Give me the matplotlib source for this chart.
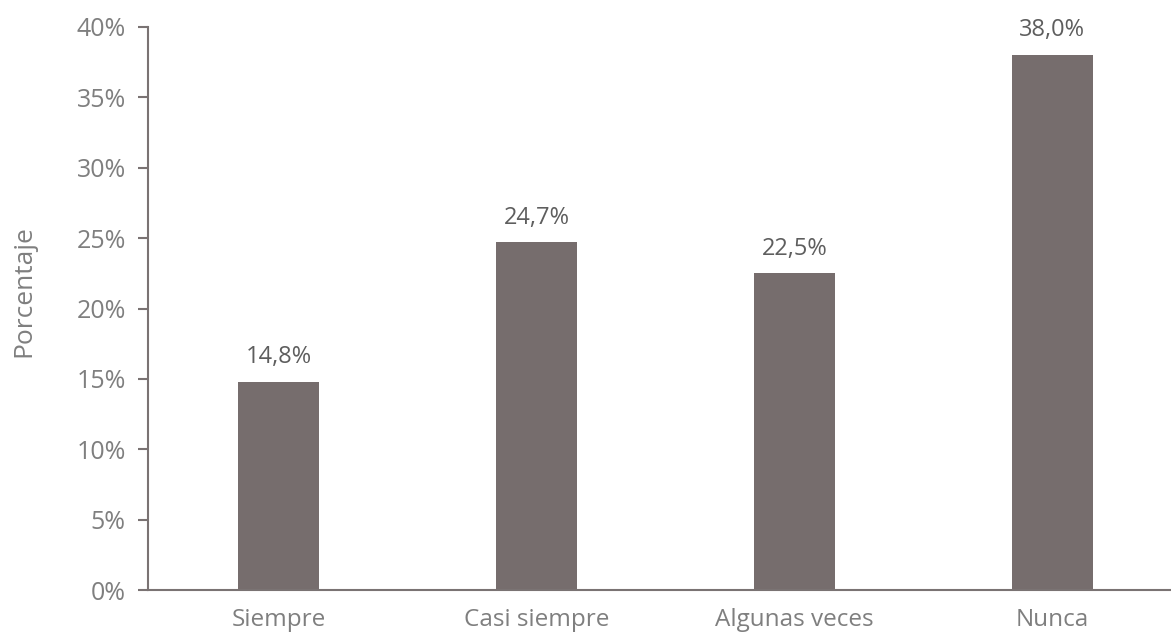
import matplotlib
matplotlib.use("Agg")
import matplotlib.pyplot as plt
from matplotlib.ticker import FuncFormatter

categories = ["Siempre", "Casi siempre", "Algunas veces", "Nunca"]
values = [14.8, 24.7, 22.5, 38.0]
labels = ["14,8%", "24,7%", "22,5%", "38,0%"]
yticks = [0, 5, 10, 15, 20, 25, 30, 35, 40]

plt.rcParams['font.family'] = ['Open Sans', 'DejaVu Sans']

fig = plt.figure(figsize=(11.71, 6.34), dpi=100)
ax = fig.add_axes([148/1171, 44/634, 1 - 148/1171, (607-44)/634])

bar_color = "#766d6d"
spine_color = "#7a7373"
tick_text = "#7f7f7f"

x = list(range(len(categories)))
ax.bar(x, values, width=0.314, color=bar_color, zorder=2)
for xi, v, lab in zip(x, values, labels):
    ax.text(xi, v + 0.9, lab, ha="center", va="bottom", fontsize=17, color="#5e5e5e")

ax.set_xlim(-0.506, 3.46)
ax.set_ylim(0, 40)
ax.set_yticks(yticks)
ax.yaxis.set_major_formatter(FuncFormatter(lambda v, p: f"{int(v)}%"))
ax.set_xticks(x)
ax.set_xticklabels(categories)
ax.tick_params(axis="x", length=0, pad=13, labelsize=17.5, labelcolor=tick_text)
ax.tick_params(axis="y", length=7, width=1.5, color=spine_color, pad=9, labelsize=18, labelcolor=tick_text)

for s in ["top", "right"]:
    ax.spines[s].set_visible(False)
for s in ["left", "bottom"]:
    ax.spines[s].set_color(spine_color)
    ax.spines[s].set_linewidth(1.5)

ax.set_ylabel("Porcentaje", fontsize=19, color=tick_text)
ax.yaxis.set_label_coords(-0.121, 0.531)
ax.yaxis.label.set_va("center")

fig.savefig("out.png", dpi=100)
